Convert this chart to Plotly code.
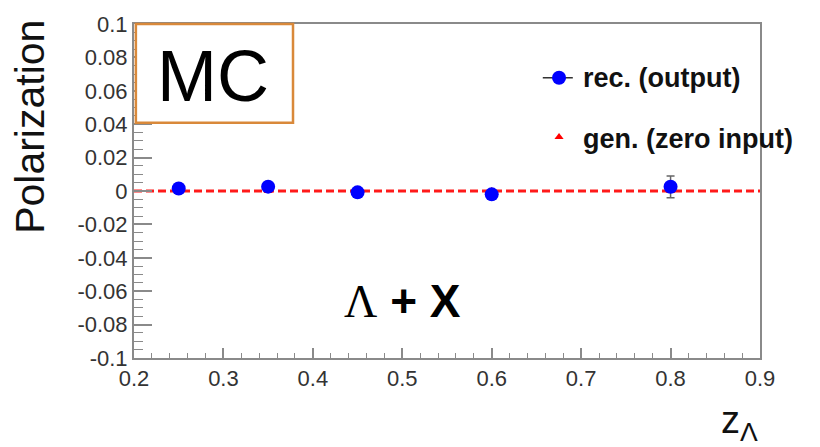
import plotly.graph_objects as go

# ---- data ----
z_bins = [0.25, 0.35, 0.45, 0.60, 0.80]
rec_pol = [0.0015, 0.0026, -0.0008, -0.0020, 0.0025]
rec_err = [0.0020, 0.0020, 0.0020, 0.0025, 0.0065]
gen_pol = [0.0, 0.0, 0.0, 0.0, 0.0]
x_range = [0.2, 0.9]
y_range = [-0.1, 0.1]
x_tickvals = [0.2, 0.3, 0.4, 0.5, 0.6, 0.7, 0.8, 0.9]
x_ticktext = ["0.2", "0.3", "0.4", "0.5", "0.6", "0.7", "0.8", "0.9"]
y_tickvals = [0.1, 0.08, 0.06, 0.04, 0.02, 0.0, -0.02, -0.04, -0.06, -0.08, -0.1]
y_ticktext = ["0.1", "0.08", "0.06", "0.04", "0.02", "0", "-0.02", "-0.04", "-0.06", "-0.08", "-0.1"]
legend_labels = ["rec. (output)", "gen. (zero input)"]

AX = "#8a8a8a"
FONT = "Liberation Sans, Arial, sans-serif"
TICKFONT = dict(family=FONT, size=22, color="#333333")

fig = go.Figure()

# gen. reference line (dashed, red) across the x range
fig.add_trace(go.Scatter(
    x=x_range, y=[gen_pol[0], gen_pol[0]], mode="lines",
    line=dict(color="#ff1a1a", width=3, dash="8px,4px"),
    showlegend=False, hoverinfo="skip"))
# gen. points (red triangles)
fig.add_trace(go.Scatter(
    x=z_bins, y=gen_pol, mode="markers",
    marker=dict(symbol="triangle-up", color="#ff0000", size=8),
    showlegend=False))
# rec. points with error bars
fig.add_trace(go.Scatter(
    x=z_bins, y=rec_pol, mode="markers",
    marker=dict(symbol="circle", color="#0000ff", size=14),
    error_y=dict(type="data", array=rec_err, color="#666666", thickness=1.5, width=4),
    showlegend=False))

# ---- manual legend (on an overlay axis in [0,1] units) ----
fig.add_trace(go.Scatter(
    x=[0.653, 0.701], y=[0.839, 0.839], mode="lines",
    line=dict(color="#333333", width=1.5), xaxis="x2", yaxis="y2",
    showlegend=False, hoverinfo="skip"))
fig.add_trace(go.Scatter(
    x=[0.679], y=[0.839], mode="markers",
    marker=dict(symbol="circle", color="#0000ff", size=14), xaxis="x2", yaxis="y2",
    showlegend=False, hoverinfo="skip"))
fig.add_trace(go.Scatter(
    x=[0.679], y=[0.662], mode="markers",
    marker=dict(symbol="triangle-up", color="#ff0000", size=8), xaxis="x2", yaxis="y2",
    showlegend=False, hoverinfo="skip"))

annotations = [
    dict(x=0.714, y=0.839, xref="paper", yref="paper", xanchor="left", yanchor="middle",
         text="<b>" + legend_labels[0] + "</b>", showarrow=False,
         font=dict(family=FONT, size=27, color="#111111")),
    dict(x=0.714, y=0.656, xref="paper", yref="paper", xanchor="left", yanchor="middle",
         text="<b>" + legend_labels[1] + "</b>", showarrow=False,
         font=dict(family=FONT, size=27, color="#111111")),
    # MC label
    dict(x=0.126, y=0.843, xref="paper", yref="paper", xanchor="center", yanchor="middle",
         text="MC", showarrow=False,
         font=dict(family=FONT, size=72, color="#000000")),
    # Lambda + X
    dict(x=0.5, y=-0.066, xref="x", yref="y", xanchor="center", yanchor="middle",
         text="<span style='font-family:Liberation Serif'>Λ</span> <b>+ X</b>", showarrow=False,
         font=dict(family=FONT, size=46, color="#000000")),
    # y title
    dict(x=(30 - 134) / 626.0, y=(358 - 122) / 341.0, xref="paper", yref="paper", showarrow=False,
         text="Polarization", textangle=-90, xanchor="center", yanchor="middle",
         font=dict(family=FONT, size=41, color="#111111")),
    # x title
    dict(x=1.0, y=-0.195, xref="paper", yref="paper", showarrow=False,
         text="z<sub>Λ</sub>", xanchor="right", yanchor="middle",
         font=dict(family=FONT, size=38, color="#111111")),
]

fig.update_layout(
    width=820, height=447,
    margin=dict(l=134, r=60, t=17, b=89),
    paper_bgcolor="white", plot_bgcolor="white",
    showlegend=False,
    annotations=annotations,
    shapes=[dict(type="rect", xref="paper", yref="paper",
                 x0=0.003, x1=0.254, y0=0.704, y1=1.0,
                 line=dict(color="#d9893a", width=2.5), fillcolor="white", layer="above")],
    xaxis=dict(range=x_range, tickvals=x_tickvals, ticktext=x_ticktext,
               showgrid=False, zeroline=False, showline=True, linecolor=AX, linewidth=2,
               mirror=True, ticks="inside", ticklen=10, tickwidth=1.5, tickcolor=AX,
               minor=dict(dtick=0.02, tick0=0.2, ticks="inside", ticklen=5, tickcolor=AX,
                          tickwidth=1.2, showgrid=False),
               tickfont=TICKFONT),
    yaxis=dict(range=y_range, tickvals=y_tickvals, ticktext=y_ticktext,
               showgrid=False, zeroline=False, showline=True, linecolor=AX, linewidth=2,
               mirror=True, ticks="inside", ticklen=18, tickwidth=1.5, tickcolor=AX,
               minor=dict(dtick=0.005, tick0=0, ticks="inside", ticklen=9, tickcolor=AX,
                          tickwidth=1.2, showgrid=False),
               tickfont=TICKFONT),
    xaxis2=dict(range=[0, 1], overlaying="x", visible=False, fixedrange=True),
    yaxis2=dict(range=[0, 1], overlaying="y", visible=False, fixedrange=True),
)

fig.write_html("out.html")
